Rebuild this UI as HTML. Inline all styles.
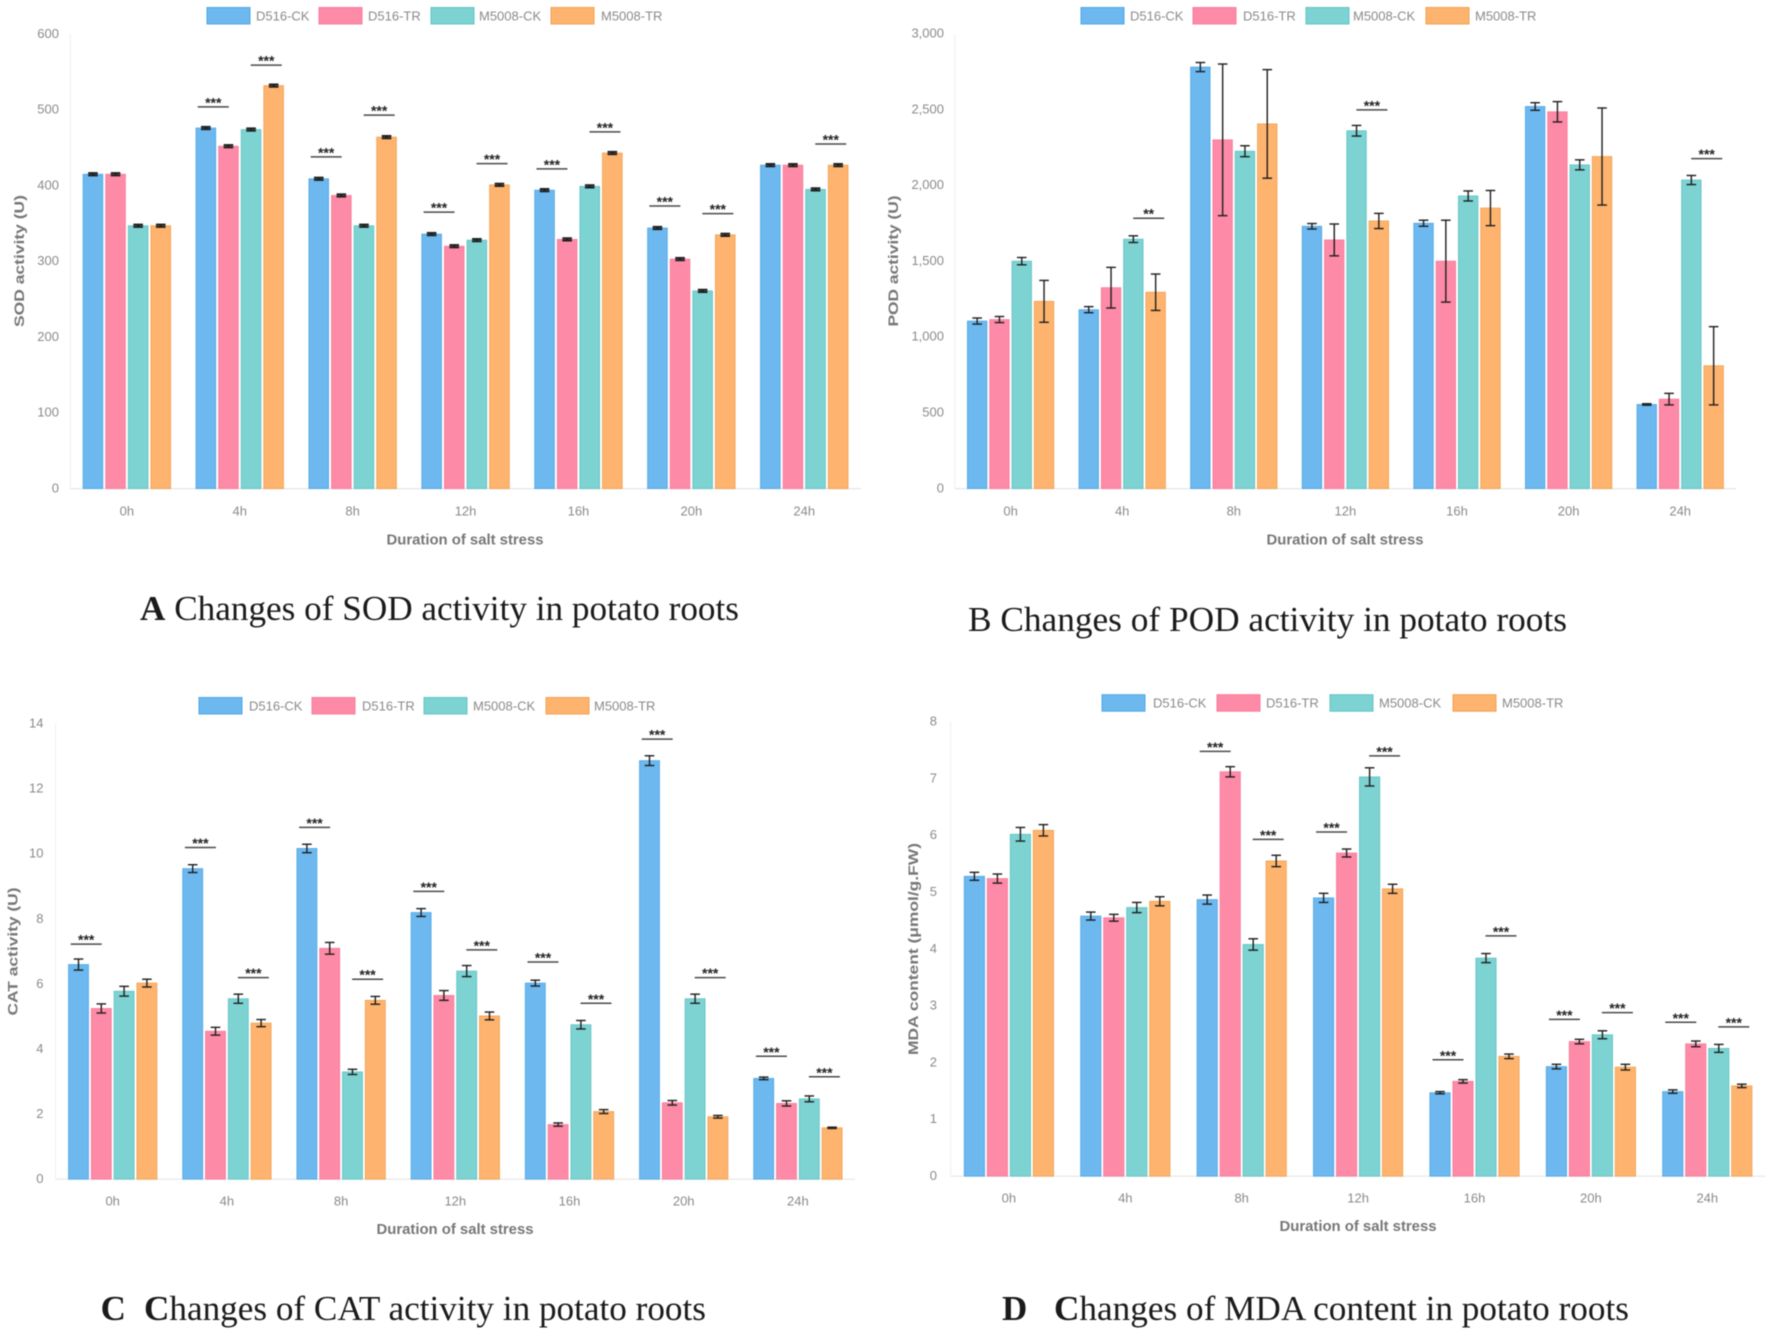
<!DOCTYPE html>
<html lang="en">
<head>
<meta charset="utf-8">
<title>Changes of antioxidant enzyme activity and MDA content in potato roots</title>
<style>
html,body{margin:0;padding:0;background:#fff;}
#figure{display:block;width:1772px;height:1335px;filter:blur(0.6px);}
text{font-family:"Liberation Sans",Arial,sans-serif;}
.cap{font-family:"Liberation Serif","Times New Roman",serif;font-size:35px;fill:#1a1a1a;}
</style>
</head>
<body>
<svg id="figure" xmlns="http://www.w3.org/2000/svg" width="1772" height="1335" viewBox="0 0 1772 1335">
  <rect width="1772" height="1335" fill="#fff"/>
  <g id="panel-a"></g>
  <g id="panel-b"></g>
  <g id="panel-c"></g>
  <g id="panel-d"></g>
  <text class="cap" x="140" y="620" textLength="599" lengthAdjust="spacingAndGlyphs"><tspan font-weight="bold">A</tspan> Changes of SOD activity in potato roots</text>
  <text class="cap" x="968" y="631" textLength="599" lengthAdjust="spacingAndGlyphs">B Changes of POD activity in potato roots</text>
  <text class="cap" x="100.6" y="1320" font-weight="bold">C</text>
  <text class="cap" x="144" y="1320" textLength="562" lengthAdjust="spacingAndGlyphs"><tspan font-weight="bold">C</tspan>hanges of CAT activity in potato roots</text>
  <text class="cap" x="1002" y="1320" font-weight="bold">D</text>
  <text class="cap" x="1054" y="1320" textLength="575" lengthAdjust="spacingAndGlyphs"><tspan font-weight="bold">C</tspan>hanges of MDA content in potato roots</text>
</svg>
<script>
const categories = ['0h','4h','8h','12h','16h','20h','24h'];
const seriesNames = ['D516-CK','D516-TR','M5008-CK','M5008-TR'];
const xAxisTitle = 'Duration of salt stress';

// Panel A: SOD
const sodTicks = [0,100,200,300,400,500,600];
const sodCK = [415,476,409,336,394,344,427];
const sodTR = [415,452,387,320,329,303,427];
const sodMCK = [347,474,347,328,399,261,395];
const sodMTR = [347,532,464,401,443,335,427];
const sodErrCK = [1.5,1.5,1.5,1.5,1.5,1.5,1.5];
const sodErrTR = [1.5,1.5,1.5,1.5,1.5,1.5,1.5];
const sodErrMCK = [1.5,1.5,1.5,1.5,1.5,1.5,1.5];
const sodErrMTR = [1.5,1.5,1.5,1.5,1.5,1.5,1.5];
const sodSigGroup = [1,1,2,2,3,3,4,4,5,5,6];
const sodSigSide = [-1,1,-1,1,-1,1,-1,1,-1,1,1];
const sodSigValue = [504,559,438,493,365,429,422,471,373,363,455];
const sodSigLabel = ['***','***','***','***','***','***','***','***','***','***','***'];

// Panel B: POD
const podTicks = [0,500,1000,1500,2000,2500,3000];
const podCK = [1105,1180,2780,1730,1750,2520,555];
const podTR = [1115,1325,2300,1640,1500,2485,590];
const podMCK = [1500,1645,2225,2360,1930,2135,2035];
const podMTR = [1235,1295,2405,1765,1850,2190,810];
const podErrCK = [20,20,30,18,20,25,5];
const podErrTR = [20,134,500,105,270,67,38];
const podErrMCK = [24,22,36,35,33,33,30];
const podErrMTR = [138,120,358,50,116,320,258];
const podSigGroup = [1,3,6];
const podSigSide = [1,1,1];
const podSigValue = [1783,2498,2176];
const podSigLabel = ['**','***','***'];

// Panel C: CAT
const catTicks = [0,2,4,6,8,10,12,14];
const catCK = [6.6,9.55,10.17,8.2,6.03,12.87,3.1];
const catTR = [5.25,4.55,7.1,5.65,1.68,2.35,2.33];
const catMCK = [5.78,5.55,3.3,6.4,4.75,5.55,2.47];
const catMTR = [6.03,4.8,5.5,5.02,2.08,1.92,1.58];
const catErrCK = [0.17,0.12,0.13,0.12,0.09,0.15,0.04];
const catErrTR = [0.14,0.12,0.18,0.15,0.05,0.07,0.08];
const catErrMCK = [0.15,0.14,0.08,0.17,0.13,0.14,0.09];
const catErrMTR = [0.12,0.11,0.12,0.12,0.06,0.04,0.02];
const catSigGroup = [0,1,1,2,2,3,3,4,4,5,5,6,6];
const catSigSide = [-1,-1,1,-1,1,-1,1,-1,1,-1,1,-1,1];
const catSigValue = [7.23,10.2,6.2,10.82,6.15,8.85,7.05,6.68,5.41,13.53,6.2,3.78,3.15];
const catSigLabel = ['***','***','***','***','***','***','***','***','***','***','***','***','***'];

// Panel D: MDA
const mdaTicks = [0,1,2,3,4,5,6,7,8];
const mdaCK = [5.28,4.58,4.87,4.9,1.47,1.93,1.49];
const mdaTR = [5.24,4.55,7.12,5.69,1.67,2.37,2.33];
const mdaMCK = [6.02,4.73,4.08,7.03,3.84,2.49,2.25];
const mdaMTR = [6.09,4.84,5.55,5.06,2.11,1.92,1.59];
const mdaErrCK = [0.07,0.07,0.08,0.08,0.02,0.04,0.03];
const mdaErrTR = [0.08,0.06,0.09,0.07,0.03,0.04,0.05];
const mdaErrMCK = [0.12,0.09,0.1,0.16,0.08,0.07,0.07];
const mdaErrMTR = [0.1,0.08,0.1,0.08,0.04,0.05,0.03];
const mdaSigGroup = [2,2,3,3,4,4,5,5,6,6];
const mdaSigSide = [-1,1,-1,1,-1,1,-1,1,-1,1];
const mdaSigValue = [7.48,5.93,6.06,7.4,2.05,4.23,2.76,2.88,2.71,2.63];
const mdaSigLabel = ['***','***','***','***','***','***','***','***','***','***'];

const NS = 'http://www.w3.org/2000/svg';
const fills = ['#6cb8ef','#fd8aa6','#7dd2d2','#feb46e'];
const strokes = ['#4fa8e8','#f87c9c','#62c4c4','#f0a050'];

function make(parent, tag, attrs, txt) {
  const n = document.createElementNS(NS, tag);
  for (const k in attrs) n.setAttribute(k, attrs[k]);
  if (txt !== undefined) n.textContent = txt;
  parent.appendChild(n);
  return n;
}

function drawChart(id, g, d) {
  const root = document.getElementById(id);
  const maxV = d.ticks[d.ticks.length - 1];
  const yScale = v => g.y0 - (v / maxV) * (g.y0 - g.yTop);
  const xCenter = i => g.left + g.band * (i + 0.5);

  // axes
  const yLine = make(root, 'line', {x1:g.left, x2:g.left, y1:g.yTop, y2:g.y0, stroke:'#efefef', 'stroke-width':1});
  
  
  const xLine = make(root, 'line', {x1:g.left, x2:g.left + g.band * categories.length, y1:g.y0, y2:g.y0, stroke:'#e6e6e6', 'stroke-width':1.2});
  
  

  d.ticks.forEach(t => {
    const lab = make(root, 'text', {x:g.tickRight, y:yScale(t) - 0.8, dy:'0.35em', 'text-anchor':'end', 'font-size':13, fill:'#8a8a8a'}, t.toLocaleString('en-US'));
    
    
  });

  categories.forEach((c, i) => {
    const lab = make(root, 'text', {x:xCenter(i), y:g.xLabelY, dy:'0.35em', 'text-anchor':'middle', 'font-size':13, fill:'#8a8a8a'}, c);
    
    
  });

  const xt = make(root, 'text', {x:g.xTitleX, y:g.xTitleY, dy:'0.35em', 'text-anchor':'middle', 'font-size':15, 'font-weight':'bold', fill:'#777', textLength:157, lengthAdjust:'spacingAndGlyphs'}, xAxisTitle);
  
  

  const yt = make(root, 'text', {x:0, y:0, dy:'0.35em', 'text-anchor':'middle', 'font-size':14, 'font-weight':'bold', fill:'#777', textLength:g.yTitleLen, lengthAdjust:'spacingAndGlyphs', transform:'translate(' + g.yTitleX + ',' + g.yTitleY + ') rotate(-90)'}, d.yTitle);
  
  

  // bars
  d.series.forEach((vals, s) => {
    vals.forEach((v, i) => {
      const cx = xCenter(i) + (s - 1.5) * g.pitch;
      const r = make(root, 'rect', {x:cx - g.barW / 2, y:yScale(v), width:g.barW, height:g.y0 - yScale(v), fill:fills[s], stroke:strokes[s], 'stroke-width':0.8});
      
      
    });
  });

  // error bars
  d.errors.forEach((errs, s) => {
    errs.forEach((e, i) => {
      const cx = xCenter(i) + (s - 1.5) * g.pitch;
      const v = d.series[s][i];
      const top = yScale(v + e), bot = yScale(v - e);
      const grp = make(root, 'g', {stroke:'#1e1e1e', 'stroke-width':g.errW, fill:'none'});
      
      
      make(grp, 'line', {x1:cx, x2:cx, y1:top, y2:bot});
      make(grp, 'line', {x1:cx - 4.8, x2:cx + 4.8, y1:top, y2:top});
      make(grp, 'line', {x1:cx - 4.8, x2:cx + 4.8, y1:bot, y2:bot});
    });
  });

  // significance brackets
  d.sigGroup.forEach((grpIdx, k) => {
    const cx = xCenter(grpIdx) + d.sigSide[k] * g.sigOffset;
    const y = yScale(d.sigValue[k]);
    const ln = make(root, 'line', {x1:cx - 15.5, x2:cx + 15.5, y1:y, y2:y, stroke:'#4a4a4a', 'stroke-width':1.5});
    
    
    const st = make(root, 'text', {x:cx, y:y + 0.5, 'text-anchor':'middle', 'font-size':14, 'font-weight':'bold', fill:'#222'}, d.sigLabel[k]);
    
    
  });

  // legend
  seriesNames.forEach((nm, s) => {
    const sw = make(root, 'rect', {x:g.legendSw[s], y:g.legendY, width:43, height:16.5, fill:fills[s], stroke:strokes[s], 'stroke-width':1});
    
    
    const lb = make(root, 'text', {x:g.legendTx[s], y:g.legendY + 8.25, dy:'0.35em', 'font-size':13, fill:'#8a8a8a'}, nm);
    
    
  });
}

drawChart('panel-a',
  {left:70.4, band:112.9, pitch:22.6, barW:19.7, errW:2, y0:488.6, yTop:34.1, tickRight:59, xLabelY:511, xTitleX:465, xTitleY:539, yTitleX:19, yTitleY:261, yTitleLen:132, sigOffset:26.5, legendY:7.5, legendSw:[207,319,431,551], legendTx:[256,368,479,601]},
  {ticks:sodTicks, yTitle:'SOD activity (U)', series:[sodCK,sodTR,sodMCK,sodMTR], errors:[sodErrCK,sodErrTR,sodErrMCK,sodErrMTR], sigGroup:sodSigGroup, sigSide:sodSigSide, sigValue:sodSigValue, sigLabel:sodSigLabel});

drawChart('panel-b',
  {left:954.8, band:111.6, pitch:22.3, barW:19.5, errW:1.4, y0:488.6, yTop:33.7, tickRight:944, xLabelY:511, xTitleX:1345, xTitleY:539, yTitleX:893, yTitleY:261, yTitleLen:131, sigOffset:26.5, legendY:7.5, legendSw:[1081,1193,1306,1426], legendTx:[1130,1243,1353,1475]},
  {ticks:podTicks, yTitle:'POD activity (U)', series:[podCK,podTR,podMCK,podMTR], errors:[podErrCK,podErrTR,podErrMCK,podErrMTR], sigGroup:podSigGroup, sigSide:podSigSide, sigValue:podSigValue, sigLabel:podSigLabel});

drawChart('panel-c',
  {left:55.6, band:114.2, pitch:22.8, barW:20, errW:1.4, y0:1179.2, yTop:723.9, tickRight:43.5, xLabelY:1201, xTitleX:455, xTitleY:1228.5, yTitleX:12.4, yTitleY:951.5, yTitleLen:128, sigOffset:26.5, legendY:697.5, legendSw:[199,312,424,546], legendTx:[249,362,473,594]},
  {ticks:catTicks, yTitle:'CAT activity (U)', series:[catCK,catTR,catMCK,catMTR], errors:[catErrCK,catErrTR,catErrMCK,catErrMTR], sigGroup:catSigGroup, sigSide:catSigSide, sigValue:catSigValue, sigLabel:catSigLabel});

drawChart('panel-d',
  {left:950.7, band:116.4, pitch:23, barW:20.3, errW:1.4, y0:1176.2, yTop:721.8, tickRight:937, xLabelY:1198, xTitleX:1358, xTitleY:1225.5, yTitleX:913, yTitleY:949, yTitleLen:212, sigOffset:26.5, legendY:694.7, legendSw:[1102,1217,1330,1453], legendTx:[1153,1266,1379,1502]},
  {ticks:mdaTicks, yTitle:'MDA content (μmol/g.FW)', series:[mdaCK,mdaTR,mdaMCK,mdaMTR], errors:[mdaErrCK,mdaErrTR,mdaErrMCK,mdaErrMTR], sigGroup:mdaSigGroup, sigSide:mdaSigSide, sigValue:mdaSigValue, sigLabel:mdaSigLabel});
</script>
</body>
</html>
